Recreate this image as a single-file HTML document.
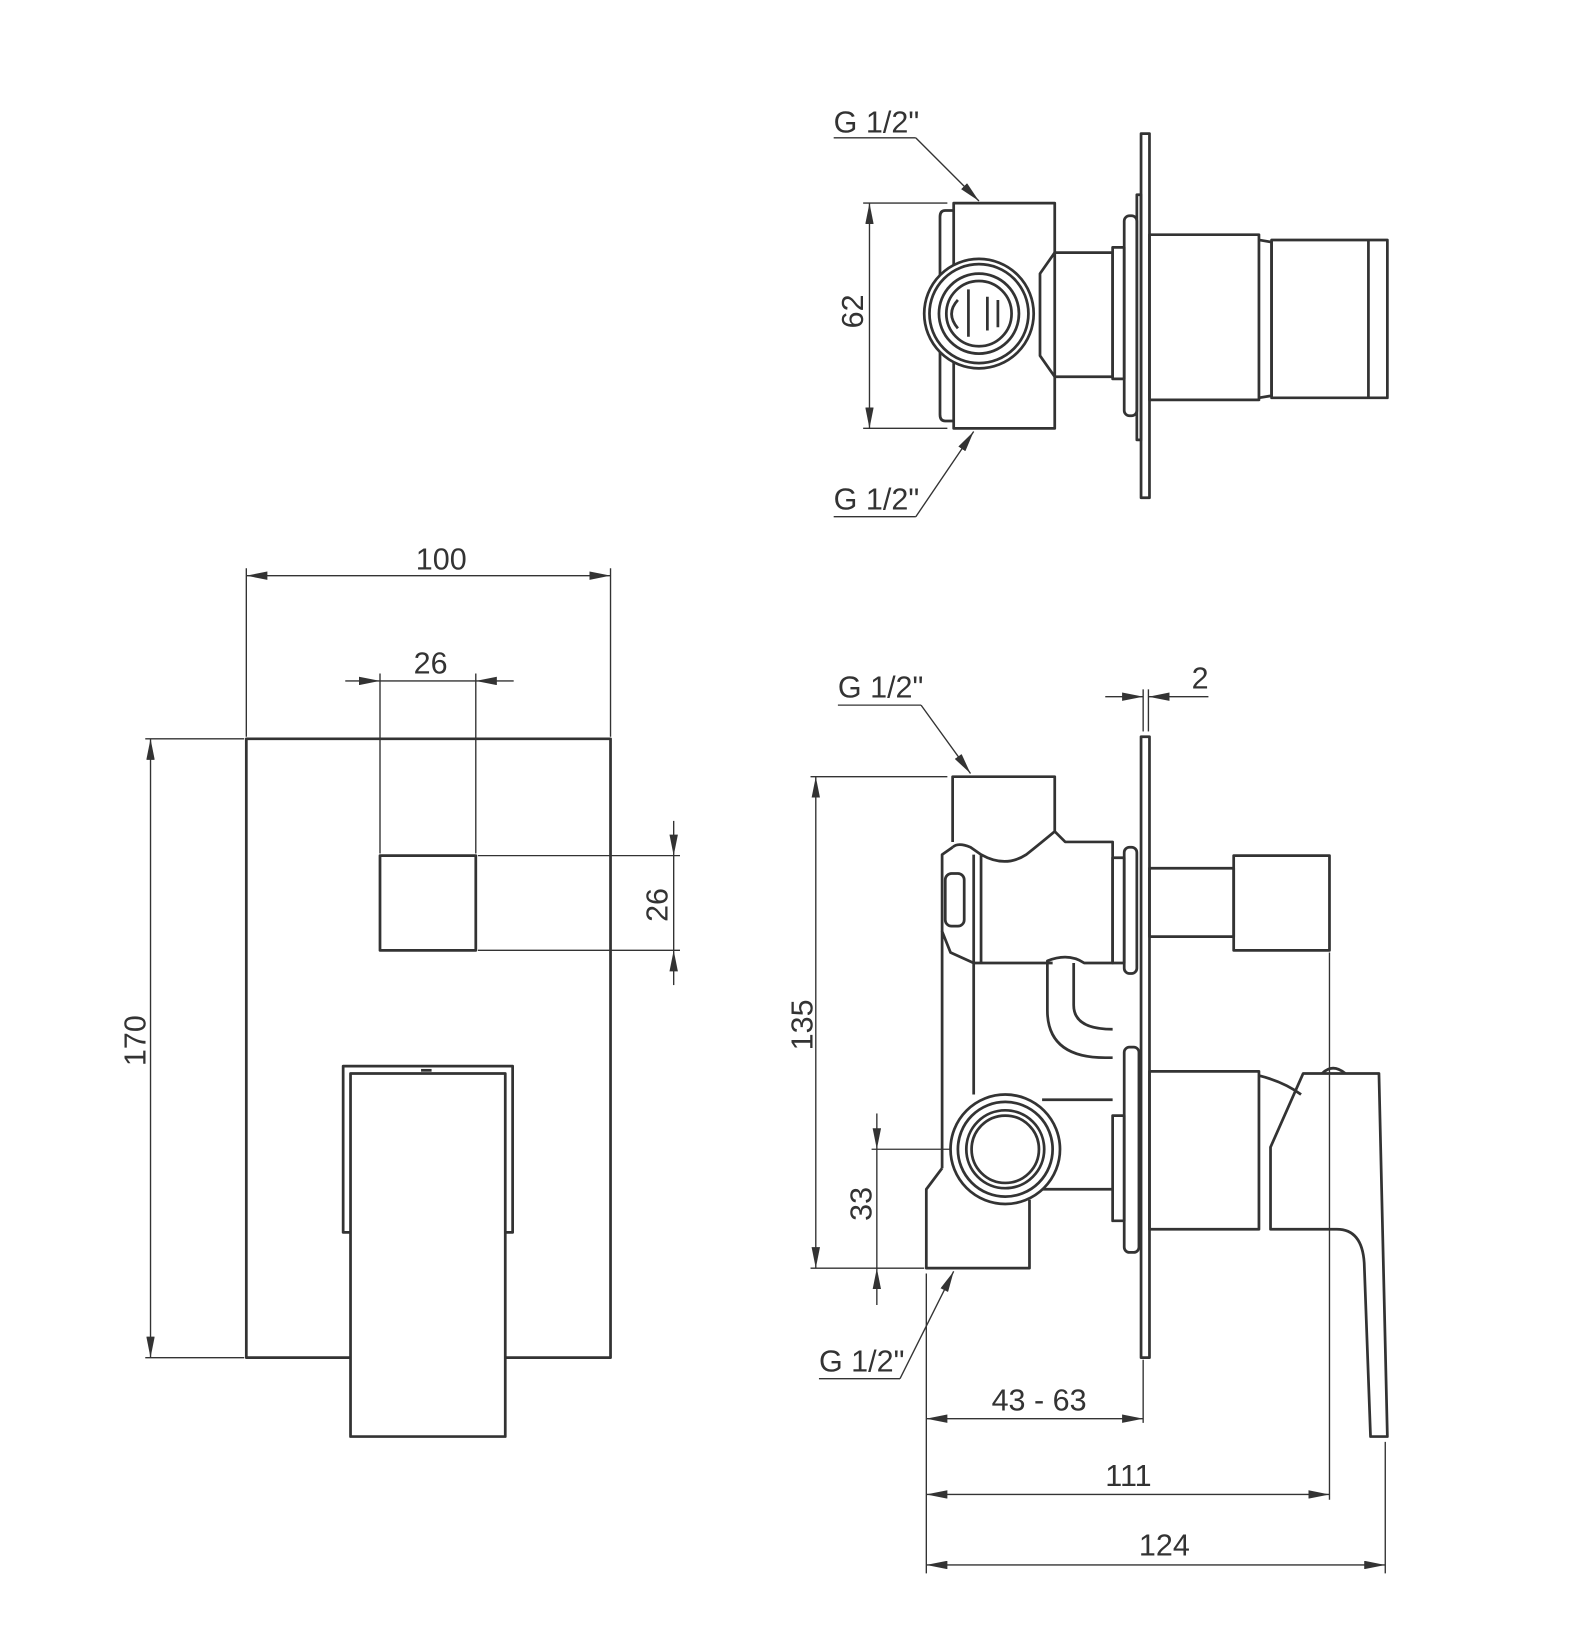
<!DOCTYPE html>
<html><head><style>
html,body{margin:0;padding:0;background:#fff;}
svg{display:block;}
text{font-family:"Liberation Sans Narrow","Liberation Sans",sans-serif;font-size:29px;fill:#333;}
</style></head><body>
<svg width="1580" height="1646" viewBox="0 0 1501 1564" preserveAspectRatio="none" xmlns="http://www.w3.org/2000/svg">
<defs>
<marker id="a" viewBox="0 0 20 8" refX="20" refY="4" markerWidth="20" markerHeight="8" markerUnits="userSpaceOnUse" orient="auto-start-reverse"><path d="M0,0 L20,4 L0,8 z" fill="#333"/></marker>
</defs>
<g fill="none" stroke="#333" stroke-width="1.3">
<!-- left view dims -->
<line x1="234" y1="540" x2="234" y2="700"/><line x1="580" y1="540" x2="580" y2="700"/>
<line x1="234" y1="547" x2="580" y2="547" marker-start="url(#a)" marker-end="url(#a)"/>
<line x1="361" y1="640" x2="361" y2="811"/><line x1="452" y1="640" x2="452" y2="811"/>
<line x1="328" y1="647" x2="361" y2="647" marker-end="url(#a)"/><line x1="488" y1="647" x2="452" y2="647" marker-end="url(#a)"/>
<line x1="361" y1="647" x2="452" y2="647"/>
<line x1="454" y1="813" x2="646" y2="813"/><line x1="454" y1="903" x2="646" y2="903"/>
<line x1="640" y1="780" x2="640" y2="813" marker-end="url(#a)"/><line x1="640" y1="936" x2="640" y2="903" marker-end="url(#a)"/>
<line x1="640" y1="813" x2="640" y2="903"/>
<line x1="138" y1="702" x2="232" y2="702"/><line x1="138" y1="1290" x2="232" y2="1290"/>
<line x1="143" y1="702" x2="143" y2="1290" marker-start="url(#a)" marker-end="url(#a)"/>
<!-- top view dims -->
<line x1="792" y1="131" x2="870" y2="131"/><line x1="870" y1="131" x2="930" y2="191" marker-end="url(#a)"/>
<line x1="792" y1="491" x2="870" y2="491"/><line x1="870" y1="491" x2="925" y2="410" marker-end="url(#a)"/>
<line x1="820" y1="193" x2="900" y2="193"/><line x1="820" y1="407" x2="900" y2="407"/>
<line x1="826" y1="193" x2="826" y2="407" marker-start="url(#a)" marker-end="url(#a)"/>
<!-- side view dims -->
<line x1="1086" y1="655" x2="1086" y2="695"/><line x1="1091" y1="655" x2="1091" y2="695"/>
<line x1="1050" y1="662" x2="1086" y2="662" marker-end="url(#a)"/><line x1="1148" y1="662" x2="1091" y2="662" marker-end="url(#a)"/>
<line x1="796" y1="670" x2="875" y2="670"/><line x1="875" y1="670" x2="922" y2="735" marker-end="url(#a)"/>
<line x1="778" y1="1310" x2="855" y2="1310"/><line x1="855" y1="1310" x2="906" y2="1208" marker-end="url(#a)"/>
<line x1="770" y1="738" x2="900" y2="738"/><line x1="770" y1="1205" x2="878" y2="1205"/>
<line x1="775" y1="738" x2="775" y2="1205" marker-start="url(#a)" marker-end="url(#a)"/>
<line x1="828" y1="1092" x2="1005" y2="1092"/>
<line x1="833" y1="1058" x2="833" y2="1092" marker-end="url(#a)"/><line x1="833" y1="1240" x2="833" y2="1205" marker-end="url(#a)"/>
<line x1="833" y1="1092" x2="833" y2="1205"/>
<line x1="880" y1="1210" x2="880" y2="1495"/><line x1="1086" y1="1292" x2="1086" y2="1352"/>
<line x1="1263" y1="905" x2="1263" y2="1425"/><line x1="1316" y1="1370" x2="1316" y2="1495"/>
<line x1="880" y1="1348" x2="1086" y2="1348" marker-start="url(#a)" marker-end="url(#a)"/>
<line x1="880" y1="1420" x2="1263" y2="1420" marker-start="url(#a)" marker-end="url(#a)"/>
<line x1="880" y1="1487" x2="1316" y2="1487" marker-start="url(#a)" marker-end="url(#a)"/>
<line x1="905" y1="1092" x2="1005" y2="1092" stroke-dasharray="8,5"/>
<line x1="955" y1="1055" x2="955" y2="1130" stroke-dasharray="8,5"/>
</g>
<g fill="none" stroke="#333" stroke-width="2.6" stroke-linejoin="round">
<!-- left view -->
<path d="M333,1290 H234 V702 H580 V1290 H480"/>
<rect x="361" y="813" width="91" height="90"/>
<rect x="326" y="1013" width="161" height="158"/>
<rect x="333" y="1020" width="147" height="345" fill="#fff"/>
<line x1="400" y1="1017" x2="410" y2="1017"/>
<!-- top view -->
<rect x="906" y="193" width="96" height="214" fill="#fff"/>
<path d="M906,200 H898 Q893,200 893,206 V394 Q893,400 898,400 H906"/>
<path d="M1002,240 H1057 V358 H1002 L988,338 V260 Z"/>
<rect x="1057" y="235" width="11" height="125"/>
<rect x="1068" y="205" width="12" height="190" rx="5"/>
<rect x="1080" y="185" width="4" height="233"/>
<rect x="1084" y="127" width="8" height="346"/>
<rect x="1092" y="223" width="104" height="157"/>
<path d="M1196,228 L1208,230 V376 L1196,378"/>
<rect x="1208" y="228" width="110" height="150"/>
<line x1="1300" y1="228" x2="1300" y2="378"/>
<circle cx="930" cy="298" r="52" fill="#fff"/><circle cx="930" cy="298" r="47"/>
<circle cx="930" cy="298" r="38"/><circle cx="930" cy="298" r="31"/>
<path d="M920,275 V320 M938,282 V314 M948,285 V311 M910,285 Q898,298 910,312"/>
<!-- side view -->
<path d="M905,800 V738 H1002 V790 Q990,800 975,812 Q955,825 932,812 L922,805 Q910,800 905,805"/>
<path d="M1002,790 L1012,800 H1057 V915 H1030 Q1015,905 995,913 V960 Q995,1005 1050,1005 H1057"/>
<path d="M1020,915 V955 Q1020,978 1057,978"/>
<path d="M905,805 L895,812 V885 L903,905 L925,915 H1000"/>
<line x1="925" y1="812" x2="925" y2="1040"/><line x1="895" y1="885" x2="895" y2="1110"/>
<rect x="898" y="830" width="18" height="50" rx="6"/>
<path d="M932,812 V915"/>
<path d="M1057,1045 H990 M1057,1130 H990"/>
<path d="M895,1110 L880,1130 V1205 H978 V1140"/>
<circle cx="955" cy="1092" r="52" fill="#fff"/><circle cx="955" cy="1092" r="45"/>
<circle cx="955" cy="1092" r="37"/><circle cx="955" cy="1092" r="32"/>
<rect x="1057" y="815" width="11" height="100"/><rect x="1068" y="805" width="12" height="120" rx="5"/>
<rect x="1057" y="1060" width="11" height="100"/><rect x="1068" y="995" width="14" height="195" rx="5"/>
<rect x="1084" y="700" width="8" height="590"/>
<rect x="1092" y="825" width="80" height="65"/>
<rect x="1172" y="813" width="91" height="90"/>
<rect x="1092" y="1018" width="104" height="150"/>
<path d="M1196,1022 Q1220,1028 1236,1040"/>
<path d="M1207,1168 V1090 L1238,1020 H1310 L1318,1365 H1302 L1296,1200 Q1294,1168 1270,1168 Z"/>
<path d="M1256,1020 Q1266,1010 1278,1020"/>
</g>
<text x="792" y="126">G 1/2"</text>
<text x="792" y="484">G 1/2"</text>
<text x="796" y="663">G 1/2"</text>
<text x="778" y="1303">G 1/2"</text>
<text x="395" y="541">100</text>
<text x="393" y="640">26</text>
<text x="1132" y="654">2</text>
<text x="942" y="1340">43 - 63</text>
<text x="1050" y="1412">111</text>
<text x="1082" y="1478">124</text>
<text transform="translate(820,312) rotate(-90)">62</text>
<text transform="translate(634,876) rotate(-90)">26</text>
<text transform="translate(138,1013) rotate(-90)">170</text>
<text transform="translate(772,998) rotate(-90)">135</text>
<text transform="translate(828,1160) rotate(-90)">33</text>
</svg>
</body></html>
